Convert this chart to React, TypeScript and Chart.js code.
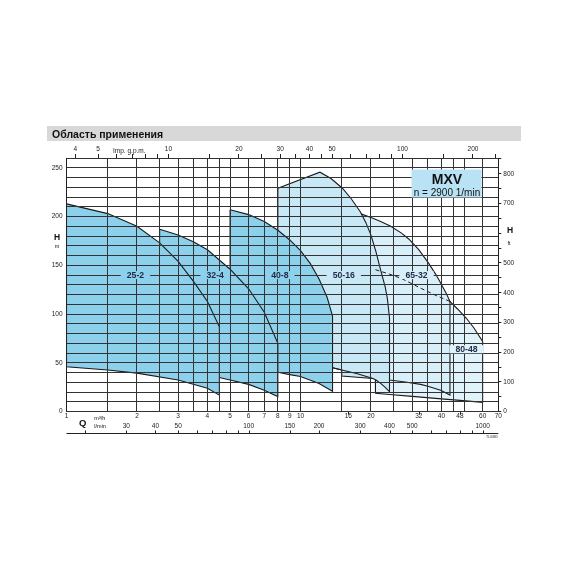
import React, { useEffect, useRef } from "react";
import { Chart, registerables } from "chart.js";

Chart.register(...registerables);

const FONT = "'Liberation Sans', Arial, Helvetica, sans-serif";

// ---------- axes ----------
const qMin = 1;
const qMax = 70;
const qGridLines = [1, 1.5, 2, 2.5, 3, 3.5, 4, 4.5, 5, 6, 7, 8, 9, 10, 15, 20, 25, 30, 35, 40, 45, 50, 60, 70];
const qTickLabels = [1, 2, 3, 4, 5, 6, 7, 8, 9, 10, 16, 20, 32, 40, 48, 60, 70];
const qMarkOnly = [16, 32, 48];
const hMin = 0;
const hMax = 260;
const hTicks = [0, 10, 20, 30, 40, 50, 60, 70, 80, 90, 100, 110, 120, 130, 140, 150, 160, 170, 180, 190, 200, 210, 220, 230, 240, 250, 260];
const hLabels = [0, 50, 100, 150, 200, 250];
const ftTicks = [0, 50, 100, 150, 200, 250, 300, 350, 400, 450, 500, 550, 600, 650, 700, 750, 800, 850];
const ftLabels = [0, 100, 200, 300, 400, 500, 700, 800];
const gpmTicks = [4, 5, 6, 7, 8, 9, 10, 15, 20, 25, 30, 35, 40, 45, 50, 60, 70, 80, 90, 100, 150, 200, 250];
const gpmLabels = [4, 5, 10, 20, 30, 40, 50, 100, 200];
const lminTicks = [20, 30, 40, 50, 60, 70, 80, 90, 100, 150, 200, 300, 400, 500, 600, 700, 800, 900, 1000];
const lminLabels = [30, 40, 50, 100, 150, 200, 300, 400, 500, 1000];

const M3H_TO_GPM = 3.6662;
const M3H_TO_LMIN = 16.6667;
const M_TO_FT = 3.28084;

// ---------- pump ranges (outline: upper curve, then lower curve back) ----------
const q25_2 = [1, 1.5, 2, 2.5, 3, 3.5, 4, 4.5, 4.5, 4, 3, 2, 1.5, 1];
const h25_2 = [213, 203, 190, 173, 154, 133, 113, 87, 17, 24, 32.5, 39.5, 42.7, 46];

const q32_4 = [2.5, 3, 3.5, 4, 5, 6, 7, 8, 8, 7, 6, 5, 4.5, 2.5];
const h32_4 = [187, 181, 174, 166, 146, 126, 102, 70, 15.5, 22, 28, 32.5, 35, 43];

const q40_8 = [5, 6, 7, 8, 9, 10, 11, 12, 13, 13.7, 13.7, 12, 10, 9, 8, 5];
const h40_8 = [207, 202, 195, 186, 176, 165, 152, 136, 117, 98, 21, 29, 36, 38, 40.5, 47];

const q50_16 = [8, 12.1, 13.5, 15.1, 16.5, 18, 19, 20, 21, 22, 23, 23.5, 24, 24, 23, 22, 21, 20.4, 15, 15, 13.7, 8];
const h50_16 = [229, 245.5, 239, 229, 218, 205, 194, 181, 164, 145, 128, 116, 96, 20.5, 25, 29, 32.5, 34, 36.6, 42.7, 45, 55];

const q50_16edge = [13.7, 15, 17.5, 20.4];
const h50_16edge = [45, 42.7, 38.8, 34];

const q65_32 = [18, 20, 22, 24.3, 27, 29, 32, 35.3, 38, 39.7, 42, 43.5, 43.5, 39.7, 35, 32.6, 28, 24, 18];
const h65_32 = [203, 199, 195, 190, 183, 177, 166, 152, 140, 132, 121, 113, 17, 22, 26, 28, 30.5, 32.5, 38];

const q80_48 = [20.9, 24, 27, 30, 33, 38, 43.5, 47, 51, 55, 60, 60, 48, 40, 30, 24, 20.9];
const h80_48 = [145.5, 141, 136.5, 131, 126, 119, 113, 105, 96, 86, 72, 9.6, 11.6, 13.1, 15.7, 17.6, 18.8];

const q80_48hidden = [20.9, 24, 27, 30, 33, 38, 43.5];
const h80_48hidden = [145.5, 141, 136.5, 131, 126, 119, 113];

const pumpNames = ["25-2", "32-4", "40-8", "50-16", "65-32", "80-48"];
const labelQ = [1.97, 4.32, 8.16, 15.3, 31.3, 51.2];
const labelH = [140, 140, 140, 140, 140, 64];

const titleText = "Область применения";
const seriesName = "MXV";
const speedText = "n = 2900 1/min";

// ---------- styles ----------
const DARK = "#8dd0ec";
const MID = "#c9e8f6";
const LIGHT = "#d8eff9";
const LIGHTER = "#e0f3fb";
const regionColors = [DARK, DARK, DARK, MID, LIGHT, LIGHTER];
const LINE = "#1b1b1b";
const GRID = "#333333";

const pts = (q: number[], h: number[], close: boolean) => {
  const p = q.map((x, i) => ({ x, y: h[i] }));
  if (close) p.push({ x: q[0], y: h[0] });
  return p;
};

const region = (label: string, q: number[], h: number[], color: string) => ({
  label,
  data: pts(q, h, true),
  backgroundColor: color,
  borderColor: LINE,
  borderWidth: 1.1,
  fill: "shape",
  pointRadius: 0,
  tension: 0,
});

const overlay = {
  id: "overlay",
  afterDraw(chart: any) {
    const { ctx } = chart;
    const xs = chart.scales.x;
    const ys = chart.scales.y;
    ctx.save();

    // title band
    ctx.fillStyle = "#d8d8d8";
    ctx.fillRect(47, 126, 474, 15);
    ctx.fillStyle = "#111";
    ctx.font = `bold 10.5px ${FONT}`;
    ctx.textAlign = "left";
    ctx.textBaseline = "alphabetic";
    ctx.fillText(titleText, 52, 137.5);

    // pump labels
    ctx.font = `bold 8.7px ${FONT}`;
    ctx.textAlign = "center";
    ctx.textBaseline = "middle";
    pumpNames.forEach((name, i) => {
      const px = xs.getPixelForValue(labelQ[i]);
      const py = ys.getPixelForValue(labelH[i]);
      const w = ctx.measureText(name).width;
      ctx.fillStyle = regionColors[i];
      ctx.fillRect(px - w / 2 - 6, py - 4, w + 12, 8);
      ctx.fillStyle = "#1e2a44";
      ctx.fillText(name, px, py + 0.5);
    });

    // MXV box
    ctx.fillStyle = "#b9e3f5";
    ctx.fillRect(411.5, 169.5, 70, 28);
    ctx.fillStyle = "#111";
    ctx.textAlign = "center";
    ctx.textBaseline = "alphabetic";
    ctx.font = `bold 14px ${FONT}`;
    ctx.fillText(seriesName, 447, 183.5);
    ctx.font = `10px ${FONT}`;
    ctx.fillText(speedText, 447, 195.5);

    // axis names
    ctx.font = `bold 8.5px ${FONT}`;
    ctx.fillText("H", 57, 239.5);
    ctx.fillText("H", 510, 233);
    ctx.font = `5.5px ${FONT}`;
    ctx.fillText("m", 57, 248);
    ctx.fillText("ft", 509, 245);
    ctx.font = `bold 9.5px ${FONT}`;
    ctx.fillText("Q", 82.7, 426);
    ctx.textAlign = "left";
    ctx.font = `5.5px ${FONT}`;
    ctx.fillText("m³/h", 94.3, 419.5);
    ctx.fillText("l/min", 94.3, 428);

    // marks for 16, 32, 48 m3/h
    ctx.strokeStyle = "#222";
    ctx.lineWidth = 1;
    ctx.beginPath();
    qMarkOnly.forEach((v) => {
      const px = Math.round(xs.getPixelForValue(v)) + 0.5;
      ctx.moveTo(px, xs.top);
      ctx.lineTo(px, xs.top + 3);
    });
    ctx.stroke();

    // l/min axis
    const yL = 433.5;
    ctx.beginPath();
    ctx.moveTo(xs.left, yL);
    ctx.lineTo(xs.right, yL);
    lminTicks.forEach((v) => {
      const px = Math.round(xs.getPixelForValue(v / M3H_TO_LMIN)) + 0.5;
      ctx.moveTo(px, yL);
      ctx.lineTo(px, yL - 3);
    });
    ctx.stroke();
    ctx.fillStyle = "#222";
    ctx.font = `6.5px ${FONT}`;
    ctx.textAlign = "center";
    ctx.textBaseline = "middle";
    lminLabels.forEach((v) => {
      ctx.fillText(String(v), xs.getPixelForValue(v / M3H_TO_LMIN), 426);
    });

    // Imp gpm name
    const x2 = chart.scales.x2;
    ctx.fillText("Imp. g.p.m.", x2.getPixelForValue(6.8), 151.5);

    // drawing code
    ctx.font = `3.5px ${FONT}`;
    ctx.fillText("TL0381", 492, 437.5);

    ctx.restore();
  },
};

export default function App() {
  const ref = useRef<HTMLCanvasElement>(null);
  useEffect(() => {
    const tickFont = { family: FONT, size: 6.5 };
    const chart = new Chart(ref.current as HTMLCanvasElement, {
      type: "line",
      data: {
        datasets: [
          region(pumpNames[0], q25_2, h25_2, DARK),
          region(pumpNames[1], q32_4, h32_4, DARK),
          region(pumpNames[2], q40_8, h40_8, DARK),
          {
            label: "80-48 hidden",
            data: pts(q80_48hidden, h80_48hidden, false),
            borderColor: LINE,
            borderWidth: 1,
            borderDash: [4, 3],
            fill: false,
            pointRadius: 0,
          },
          {
            label: "50-16 edge",
            data: pts(q50_16edge, h50_16edge, false),
            borderColor: LINE,
            borderWidth: 1.1,
            fill: false,
            pointRadius: 0,
          },
          region(pumpNames[3], q50_16, h50_16, MID),
          region(pumpNames[4], q65_32, h65_32, LIGHT),
          region(pumpNames[5], q80_48, h80_48, LIGHTER),
        ] as any,
      },
      options: {
        responsive: false,
        animation: false,
        devicePixelRatio: 1,
        events: [],
        layout: { padding: 0 },
        plugins: { legend: { display: false }, tooltip: { enabled: false }, title: { display: false } },
        elements: { point: { radius: 0 } },
        scales: {
          x: {
            type: "logarithmic",
            position: "bottom",
            min: qMin,
            max: qMax,
            afterFit: (s: any) => {
              s.height = 570 - 411.7;
            },
            afterBuildTicks: (s: any) => {
              const vals = Array.from(new Set([...qGridLines, ...qTickLabels])).sort((a, b) => a - b);
              s.ticks = vals.map((v) => ({ value: v }));
            },
            ticks: {
              autoSkip: false,
              maxRotation: 0,
              padding: 1,
              font: tickFont,
              color: "#222",
              callback: (v: any) => (qTickLabels.includes(Number(v)) ? String(v) : ""),
            },
            grid: {
              z: 1,
              drawTicks: false,
              lineWidth: 1,
              color: (c: any) => (c.tick && qGridLines.includes(c.tick.value) ? GRID : "rgba(0,0,0,0)"),
            },
            border: { display: true, color: "#222", z: 1 },
          },
          x2: {
            type: "logarithmic",
            position: "top",
            min: qMin * M3H_TO_GPM,
            max: qMax * M3H_TO_GPM,
            afterFit: (s: any) => {
              s.height = 158;
            },
            afterBuildTicks: (s: any) => {
              s.ticks = gpmTicks.map((v) => ({ value: v }));
            },
            ticks: {
              autoSkip: false,
              maxRotation: 0,
              padding: 1,
              font: tickFont,
              color: "#222",
              callback: (v: any) => (gpmLabels.includes(Number(v)) ? String(v) : ""),
            },
            grid: { drawOnChartArea: false, drawTicks: true, tickLength: 4, color: "#222" },
            border: { display: true, color: "#222", z: 1 },
          },
          y: {
            type: "linear",
            position: "left",
            min: hMin,
            max: hMax,
            afterFit: (s: any) => {
              s.width = 66.5;
            },
            afterBuildTicks: (s: any) => {
              s.ticks = hTicks.map((v) => ({ value: v }));
            },
            ticks: {
              autoSkip: false,
              padding: 4,
              font: tickFont,
              color: "#222",
              callback: (v: any) => (hLabels.includes(Number(v)) ? String(v) : ""),
            },
            grid: { z: 1, drawTicks: false, color: GRID, lineWidth: 1 },
            border: { display: true, color: "#222", z: 1 },
          },
          y2: {
            type: "linear",
            position: "right",
            min: hMin * M_TO_FT,
            max: hMax * M_TO_FT,
            afterFit: (s: any) => {
              s.width = 570 - 498.3;
            },
            afterBuildTicks: (s: any) => {
              s.ticks = ftTicks.map((v) => ({ value: v }));
            },
            ticks: {
              autoSkip: false,
              padding: 2,
              font: tickFont,
              color: "#222",
              callback: (v: any) => (ftLabels.includes(Number(v)) ? String(v) : ""),
            },
            grid: { drawOnChartArea: false, drawTicks: true, tickLength: 3, color: "#222" },
            border: { display: true, color: "#222", z: 1 },
          },
        },
      } as any,
      plugins: [overlay],
    });
    return () => chart.destroy();
  }, []);
  return (
    <div style={{ position: "fixed", left: 0, top: 0, width: 570, height: 570, background: "#fff" }}>
      <canvas ref={ref} width={570} height={570} style={{ display: "block", width: 570, height: 570 }} />
    </div>
  );
}
